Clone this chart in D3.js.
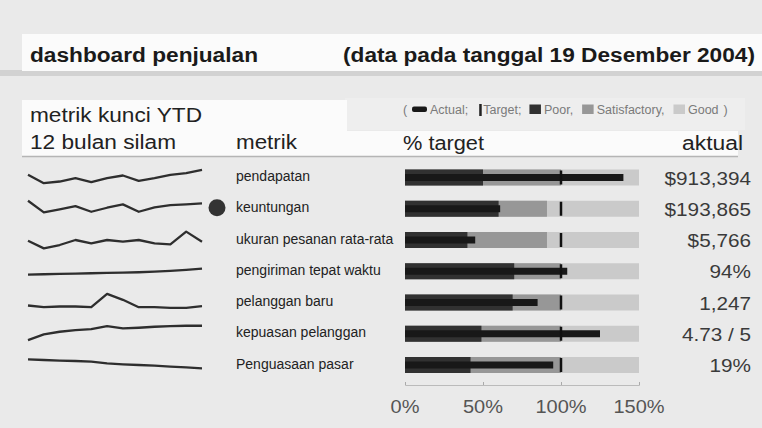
<!DOCTYPE html>
<html>
<head>
<meta charset="utf-8">
<script src="https://cdn.jsdelivr.net/npm/d3@7"></script>
<style>
  body { margin: 0; background: #eaeaea; }
  svg { display: block; font-family: "Liberation Sans", Arial, sans-serif; }
</style>
</head>
<body>
<div id="chart-area"></div>
<script>
const metrics = ["pendapatan", "keuntungan", "ukuran pesanan rata-rata", "pengiriman tepat waktu",
                 "pelanggan baru", "kepuasan pelanggan", "Penguasaan pasar"];
const actualLabels = ["$913,394", "$193,865", "$5,766", "94%", "1,247", "4.73 / 5", "19%"];
const actualPct = [140, 61, 45, 104, 85, 125, 95];
const targetPct = [100, 100, 100, 100, 100, 100, 100];
const poorEnd = [50, 60, 40, 70, 69, 49, 42];
const satEnd = [100, 91, 91, 100, 100, 100, 100];
const goodEnd = [150, 150, 150, 150, 150, 150, 150];
const alertFlags = [false, true, false, false, false, false, false];
// 12 months of each metric (index values)
const spark = [
    [58, 33, 38, 48, 36, 48, 56, 40, 48, 58, 63, 73],
    [74, 39, 48, 58, 41, 53, 63, 41, 54, 61, 63, 66],
    [48, 25, 35, 50, 40, 50, 45, 50, 40, 37, 75, 45],
    [40, 41, 42, 43, 44, 45, 46, 47, 49, 51, 54, 58],
    [41, 36, 38, 38, 36, 76, 58, 36, 36, 34, 34, 39],
    [31, 48, 56, 61, 64, 73, 66, 68, 71, 73, 74, 74],
    [67, 65, 63, 62, 60, 55, 52, 50, 48, 45, 43, 40]
];
const tickValues = [0, 50, 100, 150];
const tickLabels = ["0%", "50%", "100%", "150%"];
const legendItems = ["Actual;", "Target;", "Poor,", "Satisfactory,", "Good"];

const W = 762, H = 428;
const svg = d3.select("#chart-area").append("svg")
    .attr("width", W)
    .attr("height", H);

svg.append("rect").attr("width", W).attr("height", H).attr("fill", "#eaeaea");

// the scanned lettering is a bit wider than Arial
function fit(sel, w) {
    return sel.attr("textLength", w).attr("lengthAdjust", "spacingAndGlyphs");
}
function widen(sel, f) {
    sel.each(function() {
        const n = d3.select(this);
        n.attr("textLength", this.getComputedTextLength() * f).attr("lengthAdjust", "spacingAndGlyphs");
    });
    return sel;
}

// title strip
svg.append("rect").attr("x", 0).attr("y", 70).attr("width", W).attr("height", 6).attr("fill", "#d2d2d2");
svg.append("rect").attr("x", 22).attr("y", 34).attr("width", W - 22).attr("height", 37).attr("fill", "#fbfbfb");
fit(svg.append("text").attr("x", 30).attr("y", 62)
    .attr("font-size", 20).attr("font-weight", "bold").attr("fill", "#1a1a1a")
    .text("dashboard penjualan"), 228);
fit(svg.append("text").attr("x", 343).attr("y", 62)
    .attr("font-size", 20).attr("font-weight", "bold").attr("fill", "#1a1a1a")
    .text("(data pada tanggal 19 Desember 2004)"), 412);

// header block
svg.append("rect").attr("x", 345).attr("y", 98).attr("width", 400).attr("height", 32).attr("fill", "#eeeeee");
svg.append("rect").attr("x", 22).attr("y", 100).attr("width", 325).attr("height", 56).attr("fill", "#fbfbfb");
svg.append("rect").attr("x", 22).attr("y", 131).attr("width", 716).attr("height", 25).attr("fill", "#fbfbfb");
svg.append("line").attr("x1", 22).attr("x2", 738).attr("y1", 156.5).attr("y2", 156.5)
    .attr("stroke", "#b5b5b5").attr("stroke-width", 1.5);

const hdr = svg.append("g").attr("font-size", 20).attr("fill", "#222");
fit(hdr.append("text").attr("x", 30).attr("y", 122).text("metrik kunci YTD"), 172);
fit(hdr.append("text").attr("x", 30).attr("y", 148.5).text("12 bulan silam"), 146);
fit(hdr.append("text").attr("x", 236).attr("y", 148.5).text("metrik"), 61);
fit(hdr.append("text").attr("x", 403).attr("y", 149.5).text("% target"), 81);
fit(hdr.append("text").attr("x", 682).attr("y", 149.5).text("aktual"), 61);

// scales
const x = d3.scaleLinear().domain([0, 150]).range([405, 639]);
const y = d3.scalePoint().domain(metrics).range([177.5, 365]);
const sx = d3.scaleLinear().domain([0, 11]).range([28, 202]);
const bandH = 16, actualH = 7;

const grey = d3.scaleOrdinal()
    .domain(["poor", "satisfactory", "good", "actual"])
    .range(["#313131", "#979797", "#cacaca", "#181818"]);

// legend
const lg = svg.append("g").attr("font-size", 12.5).attr("fill", "#7a7a7a");
let lx = 403;
const ly = 114;
lg.append("text").attr("x", lx).attr("y", ly).text("(");
lx += 9;
lg.append("rect").attr("x", lx).attr("y", ly - 7.5).attr("width", 15).attr("height", 5.5).attr("rx", 2).attr("fill", grey("actual"));
lx += 18;
let t = lg.append("text").attr("x", lx).attr("y", ly).text(legendItems[0]);
lx += t.node().getComputedTextLength() + 11;
lg.append("rect").attr("x", lx).attr("y", ly - 10).attr("width", 2.5).attr("height", 12).attr("fill", "#222");
lx += 4;
t = lg.append("text").attr("x", lx).attr("y", ly).text(legendItems[1]);
lx += t.node().getComputedTextLength() + 8;
["poor", "satisfactory", "good"].forEach((k, i) => {
    lg.append("rect").attr("x", lx).attr("y", ly - 9.5).attr("width", 11.5).attr("height", 9.5).attr("fill", grey(k));
    lx += 14.5;
    const tt = lg.append("text").attr("x", lx).attr("y", ly).text(legendItems[i + 2]);
    lx += tt.node().getComputedTextLength() + 9;
});
lg.append("text").attr("x", lx - 4).attr("y", ly).text(")");

// rows
const rows = metrics.map((m, i) => ({
    name: m, label: actualLabels[i], actual: actualPct[i], target: targetPct[i],
    poor: poorEnd[i], sat: satEnd[i], good: goodEnd[i], alert: alertFlags[i], spark: spark[i]
}));

const row = svg.selectAll("g.row").data(rows).enter().append("g").attr("class", "row");

// sparklines
row.append("path")
    .attr("fill", "none")
    .attr("stroke", "#2e2e2e")
    .attr("stroke-width", 2.3)
    .attr("stroke-linejoin", "round")
    .attr("d", (d) => {
        const c = y(d.name);
        const sy = d3.scaleLinear().domain([0, 100]).range([c + 16.7, c - 16.7]);
        return d3.line().x((v, j) => sx(j)).y((v) => sy(v))(d.spark);
    });

row.filter((d) => d.alert).append("circle")
    .attr("cx", 217).attr("cy", (d) => y(d.name) - 1).attr("r", 8.5)
    .attr("fill", "#333");

row.append("text")
    .attr("x", 236).attr("y", (d) => y(d.name) + 3.5)
    .attr("font-size", 14).attr("fill", "#222")
    .text((d) => d.name);

// qualitative ranges
row.append("rect").attr("x", x(0)).attr("y", (d) => y(d.name) - bandH / 2)
    .attr("width", (d) => x(d.good) - x(0)).attr("height", bandH).attr("fill", grey("good"));
row.append("rect").attr("x", x(0)).attr("y", (d) => y(d.name) - bandH / 2)
    .attr("width", (d) => x(d.sat) - x(0)).attr("height", bandH).attr("fill", grey("satisfactory"));
row.append("rect").attr("x", x(0)).attr("y", (d) => y(d.name) - bandH / 2)
    .attr("width", (d) => x(d.poor) - x(0)).attr("height", bandH).attr("fill", grey("poor"));

// actual bar
row.append("rect").attr("x", x(0)).attr("y", (d) => y(d.name) - actualH / 2)
    .attr("width", (d) => x(d.actual) - x(0)).attr("height", actualH).attr("fill", grey("actual"));

// target marker
row.append("rect").attr("x", (d) => x(d.target) - 1.25).attr("y", (d) => y(d.name) - bandH / 2 + 1)
    .attr("width", 2.5).attr("height", bandH - 2).attr("fill", "#111");

widen(row.append("text")
    .attr("x", 751).attr("y", (d) => y(d.name) + 7)
    .attr("text-anchor", "end").attr("font-size", 18.5).attr("fill", "#3a3a3a")
    .text((d) => d.label), 1.12);

// axis
const axis = svg.append("g").attr("transform", "translate(0,385)")
    .call(d3.axisTop(x).tickValues(tickValues).tickSize(3).tickFormat(""));
axis.select(".domain").attr("stroke", "#bbb");
axis.selectAll(".tick line").attr("stroke", "#aaa");

widen(svg.append("g").selectAll("text").data(tickValues).enter().append("text")
    .attr("x", (d) => x(d)).attr("y", 413)
    .attr("text-anchor", "middle").attr("font-size", 18.5).attr("fill", "#555")
    .text((d, i) => tickLabels[i]), 1.08);
</script>
</body>
</html>
